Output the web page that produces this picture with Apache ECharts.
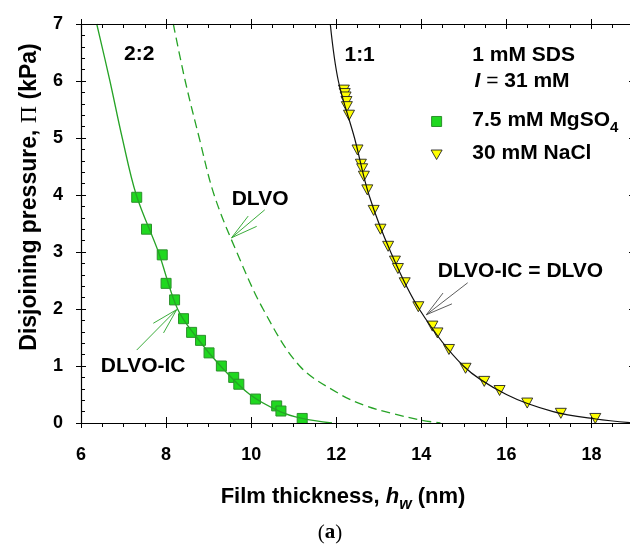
<!DOCTYPE html>
<html>
<head>
<meta charset="utf-8">
<script src="https://cdn.jsdelivr.net/npm/echarts@6/dist/echarts.min.js"></script>
<style>
  html, body { margin: 0; padding: 0; background: #ffffff; }
  #chart { width: 630px; height: 545px; }
</style>
</head>
<body>
<div id="chart"></div>
<script>
// Axis ranges and tick values
const xRange = [6, 19];
const xStep = 2;
const yRange = [0, 7];
const yStep = 1;

// Measured disjoining pressure, 7.5 mM MgSO4 (h_w in nm, Pi in kPa)
const mgso4Points = [
  [7.31, 3.96], [7.54, 3.40], [7.91, 2.95], [8.00, 2.45], [8.20, 2.16],
  [8.41, 1.83], [8.60, 1.59], [8.81, 1.45], [9.01, 1.23], [9.30, 1.00],
  [9.59, 0.80], [9.71, 0.68], [10.10, 0.42], [10.60, 0.30], [10.70, 0.21],
  [11.20, 0.08]
];

// Measured disjoining pressure, 30 mM NaCl
const naclPoints = [
  [12.18, 5.84], [12.20, 5.78], [12.22, 5.72], [12.24, 5.64], [12.25, 5.55],
  [12.30, 5.40], [12.50, 4.79], [12.58, 4.54], [12.61, 4.46], [12.65, 4.33],
  [12.73, 4.09], [12.88, 3.73], [13.04, 3.40], [13.22, 3.10], [13.38, 2.84],
  [13.45, 2.71], [13.61, 2.46], [13.93, 2.04], [14.26, 1.70], [14.38, 1.58],
  [14.65, 1.29], [15.04, 0.96], [15.48, 0.73], [15.84, 0.57], [16.49, 0.35],
  [17.28, 0.17], [18.09, 0.08]
];

// Theory: DLVO-IC for the 2:2 electrolyte
const dlvoIc22 = [
  [6.37, 7.0], [6.68, 6.0], [6.97, 5.0], [7.30, 4.0], [7.82, 3.0],
  [8.27, 2.0], [8.72, 1.5], [9.28, 1.0], [9.97, 0.5], [10.68, 0.2],
  [11.20, 0.08], [11.90, 0.0]
];

// Theory: plain DLVO for the 2:2 electrolyte
const dlvo22 = [
  [8.17, 7.0], [8.45, 6.0], [8.78, 5.0], [9.13, 4.0], [9.66, 3.0],
  [10.28, 2.0], [11.14, 1.0], [12.10, 0.5], [12.70, 0.3], [13.30, 0.17],
  [14.00, 0.05], [14.45, 0.0]
];

// Theory: DLVO-IC = DLVO for the 1:1 electrolyte
const dlvo11 = [
  [11.86, 7.0], [12.05, 6.0], [12.43, 5.0], [12.77, 4.0], [13.28, 3.0],
  [13.95, 2.0], [14.99, 1.0], [16.00, 0.5], [17.10, 0.2], [18.10, 0.07],
  [19.00, 0.0]
];

const GREEN = '#26a326';
const SQ_FILL = '#1fd81f';
const SQ_EDGE = '#2b8f2b';
const TRI_FILL = '#ffff00';
const SANS = '"Liberation Sans", Arial, sans-serif';
const SERIF = '"Liberation Serif", "DejaVu Serif", serif';

const chart = echarts.init(document.getElementById('chart'), null, { renderer: 'canvas' });

// Every axis stays on the frame edge (onZero off); extra axes only add tick marks
function axisDef(position, range, step, opts) {
  return Object.assign({
    type: 'value', position: position, gridIndex: 0, z: 6,
    min: range[0], max: range[1], interval: step,
    axisLine: { show: false, onZero: false },
    axisLabel: { show: false },
    splitLine: { show: false },
    axisTick: { show: false },
    minorTick: { show: false },
    minorSplitLine: { show: false }
  }, opts);
}
const xAxisDef = (pos, opts) => axisDef(pos, xRange, xStep, opts);
const yAxisDef = (pos, opts) => axisDef(pos, yRange, yStep, opts);

function ticks(inside, length) {
  return { show: true, inside: inside, length: length, lineStyle: { color: '#000', width: 1 } };
}
function minor(split, length) {
  return { show: true, splitNumber: split, length: length, lineStyle: { color: '#000', width: 1 } };
}
const frameLine = { show: true, onZero: false, lineStyle: { color: '#000', width: 1.2 } };
const tickFont = { show: true, color: '#000', fontFamily: SANS, fontWeight: 'bold', fontSize: 18 };

const option = {
  backgroundColor: '#ffffff',
  animation: false,
  grid: { left: 81, right: -4, top: 24, bottom: 122, containLabel: false, outerBoundsMode: 'none' },
  xAxis: [
    xAxisDef('bottom', {
      axisLine: frameLine,
      axisLabel: Object.assign({ margin: 23, showMaxLabel: false }, tickFont),
      axisTick: ticks(false, 5),
      minorTick: minor(4, 4)
    }),
    xAxisDef('bottom', { axisTick: ticks(true, 6) }),
    xAxisDef('top', { axisLine: frameLine, axisTick: ticks(true, 5), minorTick: minor(4, 4) }),
    xAxisDef('top', { axisTick: ticks(false, 5) })
  ],
  yAxis: [
    yAxisDef('left', {
      axisLine: frameLine,
      axisLabel: Object.assign({ margin: 18 }, tickFont),
      axisTick: ticks(true, 5),
      minorTick: minor(5, 4)
    }),
    yAxisDef('left', { axisTick: ticks(false, 5) }),
    yAxisDef('right', { axisLine: frameLine, axisTick: ticks(true, 5), minorTick: minor(5, 3) })
  ],
  series: [
    {
      name: 'DLVO-IC 2:2', type: 'line', data: dlvoIc22, xAxisIndex: 0, yAxisIndex: 0,
      showSymbol: false, smooth: 0.35, clip: true,
      lineStyle: { color: GREEN, width: 1.3 }
    },
    {
      name: 'DLVO 2:2', type: 'line', data: dlvo22, xAxisIndex: 0, yAxisIndex: 0,
      showSymbol: false, smooth: 0.35, clip: true,
      lineStyle: { color: GREEN, width: 1.3, type: [9, 5] }
    },
    {
      name: 'DLVO 1:1', type: 'line', data: dlvo11, xAxisIndex: 0, yAxisIndex: 0,
      showSymbol: false, smooth: 0.35, clip: true,
      lineStyle: { color: '#111', width: 1.2 }
    },
    {
      name: '7.5 mM MgSO4', type: 'scatter', data: mgso4Points, xAxisIndex: 0, yAxisIndex: 0,
      symbol: 'rect', symbolSize: 10,
      itemStyle: { color: SQ_FILL, borderColor: SQ_EDGE, borderWidth: 1, opacity: 1 }
    },
    {
      name: '30 mM NaCl', type: 'scatter', data: naclPoints, xAxisIndex: 0, yAxisIndex: 0,
      symbol: 'triangle', symbolRotate: 180, symbolSize: [11, 10],
      itemStyle: { color: TRI_FILL, borderColor: '#222', borderWidth: 0.9, opacity: 1 }
    }
  ]
};

// First pass lays out the grid so annotation anchors can be converted to pixels
chart.setOption(option);

// Annotation anchors, in data units (h_w, Pi)
const arrowSpecs = [
  { color: GREEN, width: 0.9, tip: [9.54, 3.25], tails: [[10.32, 3.74], [9.93, 3.63], [10.13, 3.45]] },
  { color: GREEN, width: 0.9, tip: [8.25, 1.99], tails: [[7.31, 1.28], [7.70, 1.75], [7.94, 1.58]] },
  { color: '#333', width: 0.8, tip: [14.12, 1.90], tails: [[15.09, 2.46], [14.51, 2.28], [14.72, 2.09]] }
];

const toPx = p => chart.convertToPixel({ xAxisIndex: 0, yAxisIndex: 0 }, p);

const graphics = [];
arrowSpecs.forEach(a => {
  const t = toPx(a.tip);
  a.tails.forEach(q => {
    const s = toPx(q);
    graphics.push({
      type: 'line', silent: true, z: 10,
      shape: { x1: s[0], y1: s[1], x2: t[0], y2: t[1] },
      style: { stroke: a.color, lineWidth: a.width }
    });
  });
});

function label(pos, text, align, opts) {
  const p = toPx(pos);
  graphics.push({
    type: 'text', x: p[0], y: p[1], z: 10, silent: true,
    style: Object.assign({
      text: text, fill: '#000', fontFamily: SANS, fontWeight: 'bold', fontSize: 21,
      textAlign: align, textVerticalAlign: 'middle'
    }, opts || {})
  });
}

label([7.37, 6.47], '2:2', 'center');
label([12.55, 6.45], '1:1', 'center');
label([15.20, 6.45], '1 mM SDS', 'left');
label([15.25, 6.00], '{i|I}{e| = }{b|31 mM}', 'left', {
  rich: {
    i: { fontFamily: SANS, fontWeight: 'bold', fontStyle: 'italic', fontSize: 21, fill: '#000' },
    e: { fontFamily: SANS, fontWeight: 'normal', fontSize: 21, fill: '#000' },
    b: { fontFamily: SANS, fontWeight: 'bold', fontSize: 21, fill: '#000' }
  }
});
label([15.20, 5.31], '{b|7.5 mM MgSO}{s|4}', 'left', {
  rich: {
    b: { fontFamily: SANS, fontWeight: 'bold', fontSize: 21, fill: '#000', lineHeight: 30, verticalAlign: 'middle' },
    s: { fontFamily: SANS, fontWeight: 'bold', fontSize: 15, fill: '#000', lineHeight: 15, verticalAlign: 'bottom' }
  }
});
label([15.20, 4.73], '30 mM NaCl', 'left');
label([10.21, 3.92], 'DLVO', 'center');
label([7.46, 1.00], 'DLVO-IC', 'center');
label([16.33, 2.67], 'DLVO-IC = DLVO', 'center');

// Legend keys
const sq = toPx([14.36, 5.29]);
graphics.push({
  type: 'rect', z: 10, silent: true,
  shape: { x: sq[0] - 5, y: sq[1] - 5, width: 10, height: 10 },
  style: { fill: SQ_FILL, stroke: SQ_EDGE, lineWidth: 1 }
});
const tr = toPx([14.36, 4.71]);
graphics.push({
  type: 'polygon', z: 10, silent: true,
  shape: { points: [[tr[0] - 5.5, tr[1] - 4.5], [tr[0] + 5.5, tr[1] - 4.5], [tr[0], tr[1] + 5]] },
  style: { fill: TRI_FILL, stroke: '#222', lineWidth: 0.9 }
});

// Axis titles and panel tag
graphics.push({
  type: 'text', x: 343, y: 497, z: 10, silent: true,
  style: {
    text: '{b|Film thickness, }{i|h}{s|w}{b| (nm)}',
    textAlign: 'center', textVerticalAlign: 'middle',
    rich: {
      b: { fontFamily: SANS, fontWeight: 'bold', fontSize: 22, fill: '#000', lineHeight: 32, verticalAlign: 'middle' },
      i: { fontFamily: SANS, fontWeight: 'bold', fontStyle: 'italic', fontSize: 22, fill: '#000', lineHeight: 32, verticalAlign: 'middle' },
      s: { fontFamily: SANS, fontWeight: 'bold', fontStyle: 'italic', fontSize: 16, fill: '#000', lineHeight: 16, verticalAlign: 'bottom' }
    }
  }
});
graphics.push({
  type: 'text', x: 30, y: 197, z: 10, silent: true, rotation: Math.PI / 2,
  style: {
    text: '{b|Disjoining pressure, }{p|\u03A0}{b| (kPa)}',
    textAlign: 'center', textVerticalAlign: 'middle',
    rich: {
      b: { fontFamily: SANS, fontWeight: 'bold', fontSize: 23, fill: '#000' },
      p: { fontFamily: SERIF, fontWeight: 'normal', fontSize: 24, fill: '#000' }
    }
  }
});
graphics.push({
  type: 'text', x: 330, y: 533, z: 10, silent: true,
  style: {
    text: '{n|(}{b|a}{n|)}',
    textAlign: 'center', textVerticalAlign: 'middle',
    rich: {
      n: { fontFamily: SERIF, fontWeight: 'normal', fontSize: 21, fill: '#000' },
      b: { fontFamily: SERIF, fontWeight: 'bold', fontSize: 21, fill: '#000' }
    }
  }
});

// Final pass: full option with annotations, rebuilt from scratch
chart.setOption(Object.assign({}, option, { graphic: graphics }), true);
</script>
</body>
</html>
